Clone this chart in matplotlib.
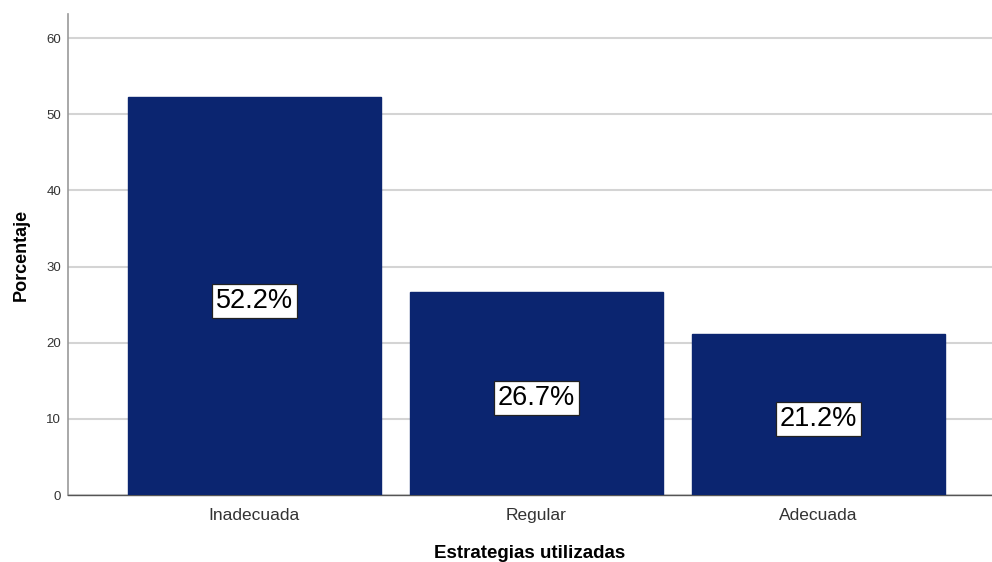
import matplotlib
matplotlib.use('Agg')
import matplotlib.pyplot as plt

# Data
categories = ['Inadecuada', 'Regular', 'Adecuada']
percentages = [52.2, 26.7, 21.2]
labels = ['52.2%', '26.7%', '21.2%']

plt.rcParams['font.family'] = ['Liberation Sans', 'DejaVu Sans']

fig = plt.figure(figsize=(9.92, 5.62), dpi=100)
ax = fig.add_axes([0.0685, 0.1192, 0.9315, 0.8558])

x = list(range(len(categories)))
ax.bar(x, percentages, width=0.897, color='#0B2570', edgecolor='#0B2570', zorder=3)

for xi, v, lab in zip(x, percentages, labels):
    ax.text(xi, v / 2 - 0.6, lab, ha='center', va='center', fontsize=19.5, color='black', zorder=4,
            bbox=dict(boxstyle='square,pad=0.15', facecolor='white', edgecolor='#222222', linewidth=0.9))

ax.set_xlim(-0.661, 2.615)
ax.set_ylim(0, 63.15)
ax.set_yticks([0, 10, 20, 30, 40, 50, 60])
ax.set_xticks(x)
ax.set_xticklabels(categories, fontsize=12.5, color='#333333')
ax.tick_params(axis='y', length=0, labelsize=9.5, colors='#333333', pad=5)
ax.tick_params(axis='x', length=0, pad=9)

ax.yaxis.grid(True, color='#d4d4d4', linewidth=1.5, zorder=0)
ax.set_axisbelow(True)
for s in ['top', 'right']:
    ax.spines[s].set_visible(False)
ax.spines['left'].set_color('#999999')
ax.spines['left'].set_linewidth(1.2)
ax.spines['bottom'].set_color('#555555')
ax.spines['bottom'].set_linewidth(1.0)

ax.set_ylabel('Porcentaje', fontsize=13, fontweight='bold', labelpad=12)
ax.set_xlabel('Estrategias utilizadas', fontsize=13.5, fontweight='bold', labelpad=16)

fig.savefig('out.png', dpi=100)
